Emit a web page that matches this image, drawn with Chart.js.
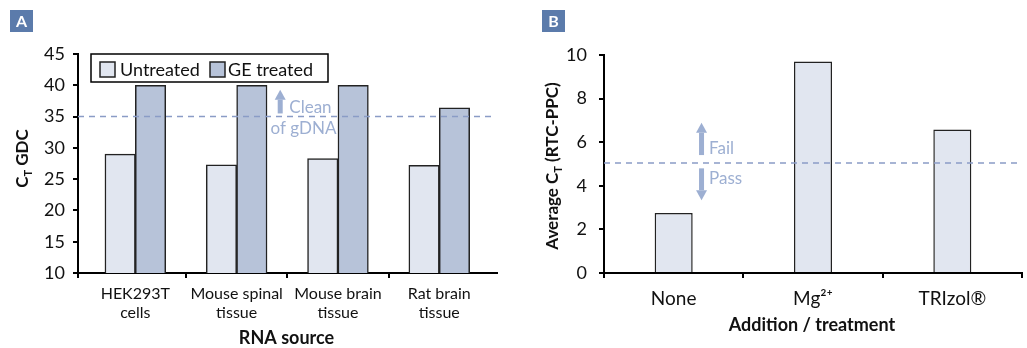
<!DOCTYPE html>
<html>
<head>
<meta charset="utf-8">
<script src="https://cdn.jsdelivr.net/npm/chart.js@4.4.1/dist/chart.umd.min.js"></script>
<style>
  html, body { margin: 0; padding: 0; background: #fff; }
  #wrap { position: relative; width: 1027px; height: 348px; overflow: hidden; }
  #wrap canvas { position: absolute; top: 0; }
  #gdcChart { left: 0; }
  #rtcChart { left: 500px; }
</style>
</head>
<body>
<div id="wrap">
  <canvas id="gdcChart" width="500" height="348"></canvas>
  <canvas id="rtcChart" width="527" height="348"></canvas>
</div>
<script>
// ---- Panel A: genomic DNA contamination (GDC) ----
const rnaSources = [
  ['HEK293T', 'cells'],
  ['Mouse spinal', 'tissue'],
  ['Mouse brain', 'tissue'],
  ['Rat brain', 'tissue']
];
const untreatedCt = [29.0, 27.3, 28.3, 27.2];
const geTreatedCt = [40, 40, 40, 36.4];
const gdcThreshold = 35;
const gdcAxisMin = 10;
const gdcAxisMax = 45;
const gdcAxisStep = 5;

// ---- Panel B: reverse-transcription control vs positive PCR control ----
const treatments = ['None', 'Mg²⁺', 'TRIzol®'];
const rtcPpcCt = [2.75, 9.7, 6.58];
const rtcThreshold = 5.05;
const rtcAxisMin = 0;
const rtcAxisMax = 10;
const rtcAxisStep = 2;

const FONT = 'Lato, "Noto Sans", sans-serif';
const INK = '#111';
const LIGHT_FILL = '#e1e6f0';
const DARK_FILL = '#b7c3d9';
const BAR_EDGE = '#222';
const GUIDE = '#8a9cc6';
const NOTE = '#9dafd2';
const BADGE = '#5b7bab';

// Text with optional subscript runs, centred on (cx, cy) by cap height
function drawRich(ctx, parts, cx, cy, size, weight, rotate) {
  ctx.save();
  ctx.translate(cx, cy);
  if (rotate) ctx.rotate(-Math.PI / 2);
  const runs = parts.map(p => {
    const s = p.sub ? size * 0.65 : size;
    ctx.font = `${weight} ${s}px ${FONT}`;
    return { t: p.t, s, sub: !!p.sub, w: ctx.measureText(p.t).width };
  });
  const total = runs.reduce((a, r) => a + r.w, 0);
  let x = -total / 2;
  const base = size * 0.36;
  ctx.fillStyle = INK;
  ctx.textBaseline = 'alphabetic';
  ctx.textAlign = 'left';
  runs.forEach(r => {
    ctx.font = `${weight} ${r.s}px ${FONT}`;
    ctx.fillText(r.t, x, base + (r.sub ? size * 0.22 : 0));
    x += r.w;
  });
  ctx.restore();
}

function drawBadge(ctx, letter, x, y) {
  ctx.save();
  ctx.fillStyle = BADGE;
  ctx.fillRect(x, y, 23, 22);
  ctx.fillStyle = '#fff';
  ctx.font = `bold 16px ${FONT}`;
  ctx.textAlign = 'center';
  ctx.textBaseline = 'middle';
  ctx.fillText(letter, x + 11.5, y + 11.5);
  ctx.restore();
}

// Block arrow from (x, yBase) to (x, yTip)
function drawArrow(ctx, x, yBase, yTip) {
  const dir = yTip < yBase ? -1 : 1;
  const head = 10;
  ctx.save();
  ctx.fillStyle = NOTE;
  const neck = yTip - dir * head;
  ctx.fillRect(x - 2.5, Math.min(yBase, neck), 5, Math.abs(neck - yBase));
  ctx.beginPath();
  ctx.moveTo(x, yTip);
  ctx.lineTo(x - 5.5, neck);
  ctx.lineTo(x + 5.5, neck);
  ctx.closePath();
  ctx.fill();
  ctx.restore();
}

function drawNote(ctx, text, x, y) {
  ctx.save();
  ctx.fillStyle = NOTE;
  ctx.font = `17px ${FONT}`;
  ctx.textAlign = 'left';
  ctx.textBaseline = 'alphabetic';
  ctx.fillText(text, x, y);
  ctx.restore();
}

function dashedLevel(chart, value, xEnd) {
  const { ctx, chartArea, scales } = chart;
  const y = scales.y.getPixelForValue(value);
  ctx.save();
  ctx.strokeStyle = GUIDE;
  ctx.lineWidth = 1.5;
  ctx.setLineDash([6, 5]);
  ctx.beginPath();
  ctx.moveTo(chartArea.left, y);
  ctx.lineTo(xEnd == null ? chartArea.right : xEnd, y);
  ctx.stroke();
  ctx.restore();
}

const axisTicks = (size, pad) => ({
  color: INK,
  padding: pad,
  font: { family: FONT, size }
});
const tickGrid = { drawOnChartArea: false, tickLength: 5, lineWidth: 2, color: '#000' };
const axisBorder = { color: '#000', width: 2 };

// ---------------- Panel A ----------------
const gdcDecor = {
  id: 'gdcDecor',
  afterDatasetsDraw(chart) {
    const { ctx, chartArea, scales } = chart;
    const x = scales.x, y = scales.y;
    dashedLevel(chart, gdcThreshold, chartArea.right - 2);

    drawArrow(ctx, x.getPixelForValue(1.43), y.getPixelForValue(35.5), y.getPixelForValue(39.3));
    drawNote(ctx, 'Clean', x.getPixelForValue(1.52), y.getPixelForValue(35.5));
    drawNote(ctx, 'of gDNA', x.getPixelForValue(1.335), y.getPixelForValue(32.15));

    // legend box
    const lx = chartArea.left + 13, ly = chartArea.top, lw = 237, lh = 28;
    ctx.save();
    ctx.fillStyle = '#fff';
    ctx.fillRect(lx, ly, lw, lh);
    ctx.strokeStyle = '#000';
    ctx.lineWidth = 1.5;
    ctx.strokeRect(lx, ly, lw, lh);
    const offsets = [[9, 29], [119, 137]];
    chart.data.datasets.forEach((ds, i) => {
      const [sx, tx] = offsets[i];
      ctx.fillStyle = ds.backgroundColor;
      ctx.fillRect(lx + sx, ly + 8, 15, 15);
      ctx.strokeStyle = BAR_EDGE;
      ctx.lineWidth = 1.5;
      ctx.strokeRect(lx + sx, ly + 8, 15, 15);
      ctx.fillStyle = INK;
      ctx.font = `18px ${FONT}`;
      ctx.textBaseline = 'alphabetic';
      ctx.fillText(ds.label, lx + tx, ly + 22);
    });
    ctx.restore();
  },
  afterDraw(chart) {
    const { ctx, chartArea } = chart;
    drawBadge(ctx, 'A', 10, 10);
    drawRich(ctx, [{ t: 'C' }, { t: 'T', sub: true }, { t: ' GDC' }], 22, (chartArea.top + chartArea.bottom) / 2 - 5, 17, 'bold', true);
    drawRich(ctx, [{ t: 'RNA source' }], (chartArea.left + chartArea.right) / 2 - 1, 338, 18, 'bold', false);
  }
};

new Chart(document.getElementById('gdcChart'), {
  type: 'bar',
  data: {
    datasets: [
      {
        label: 'Untreated',
        data: untreatedCt.map((v, i) => ({ x: i, y: v })),
        backgroundColor: LIGHT_FILL,
        borderColor: BAR_EDGE,
        borderWidth: 1.5,
        barThickness: 30.4
      },
      {
        label: 'GE treated',
        data: geTreatedCt.map((v, i) => ({ x: i, y: v })),
        backgroundColor: DARK_FILL,
        borderColor: BAR_EDGE,
        borderWidth: 1.5,
        barThickness: 30.4
      }
    ]
  },
  options: {
    responsive: false,
    animation: false,
    layout: { padding: { left: 0, top: 54, right: 3, bottom: 0 } },
    plugins: { legend: { display: false }, tooltip: { enabled: false } },
    scales: {
      x: {
        type: 'linear',
        min: -0.566,
        max: 3.57,
        offset: false,
        afterBuildTicks(scale) {
          scale.ticks = [scale.min, 0, 0.5, 1, 1.5, 2, 2.5, 3].map(v => ({ value: v }));
        },
        afterFit(scale) { scale.height = 75; },
        ticks: {
          ...axisTicks(16, 6),
          autoSkip: false,
          maxRotation: 0,
          font: { family: FONT, size: 16, lineHeight: 1.2 },
          callback: v => (Number.isInteger(v) ? rnaSources[v] : '')
        },
        grid: {
          ...tickGrid,
          offset: false,
          color: ctx => (ctx.tick && Number.isInteger(ctx.tick.value) ? 'rgba(0,0,0,0)' : '#000')
        },
        border: axisBorder
      },
      y: {
        min: gdcAxisMin,
        max: gdcAxisMax,
        afterFit(scale) { scale.width = 78; },
        ticks: { ...axisTicks(18, 8), stepSize: gdcAxisStep },
        grid: tickGrid,
        border: axisBorder
      }
    }
  },
  plugins: [gdcDecor]
});

// ---------------- Panel B ----------------
const rtcDecor = {
  id: 'rtcDecor',
  afterDatasetsDraw(chart) {
    const { ctx, scales } = chart;
    const x = scales.x, y = scales.y;
    dashedLevel(chart, rtcThreshold);
    const ax = x.getPixelForValue(0.2);
    drawArrow(ctx, ax, y.getPixelForValue(5.41), y.getPixelForValue(6.89));
    drawArrow(ctx, ax, y.getPixelForValue(4.8), y.getPixelForValue(3.34));
    drawNote(ctx, 'Fail', x.getPixelForValue(0.254), y.getPixelForValue(5.44));
    drawNote(ctx, 'Pass', x.getPixelForValue(0.254), y.getPixelForValue(4.07));
  },
  afterDraw(chart) {
    const { ctx, chartArea } = chart;
    drawBadge(ctx, 'B', 42, 10);
    drawRich(ctx, [{ t: 'Average C' }, { t: 'T', sub: true }, { t: ' (RTC-PPC)' }], 52, (chartArea.top + chartArea.bottom) / 2 + 2, 17, 'bold', true);
    drawRich(ctx, [{ t: 'Addition / treatment' }], (chartArea.left + chartArea.right) / 2 - 1, 325, 18, 'bold', false);
  }
};

new Chart(document.getElementById('rtcChart'), {
  type: 'bar',
  data: {
    labels: treatments,
    datasets: [
      {
        label: 'Average CT (RTC-PPC)',
        data: rtcPpcCt,
        backgroundColor: LIGHT_FILL,
        borderColor: BAR_EDGE,
        borderWidth: 1.5,
        categoryPercentage: 0.273,
        barPercentage: 1
      }
    ]
  },
  options: {
    responsive: false,
    animation: false,
    layout: { padding: { left: 0, top: 55, right: 5, bottom: 0 } },
    plugins: { legend: { display: false }, tooltip: { enabled: false } },
    scales: {
      x: {
        afterFit(scale) { scale.height = 75; },
        ticks: { ...axisTicks(19, 9), autoSkip: false, maxRotation: 0 },
        grid: { ...tickGrid, offset: true },
        border: axisBorder
      },
      y: {
        min: rtcAxisMin,
        max: rtcAxisMax,
        afterFit(scale) { scale.width = 104; },
        ticks: { ...axisTicks(18, 12), stepSize: rtcAxisStep },
        grid: tickGrid,
        border: axisBorder
      }
    }
  },
  plugins: [rtcDecor]
});
</script>
</body>
</html>
